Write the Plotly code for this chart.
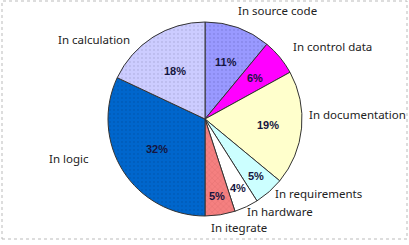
import math
import plotly.graph_objects as go

labels = ["In source code", "In control data", "In documentation", "In requirements",
          "In hardware", "In itegrate", "In logic", "In calculation"]
values = [11, 6, 19, 5, 4, 5, 32, 18]

# styles
colors = ["#9999FF", "#FF00FF", "#FFFFCC", "#CCFFFF", "#FFFFFF", "#F58080", "#0066CC", "#CCCCFF"]
pattern_shapes = [".", "", "", "", "", "x", ".", "."]
pattern_fg = ["#7777D6", "#FF00FF", "#FFFFCC", "#CCFFFF", "#FFFFFF", "#C85A5A", "#0052A8", "#A6A6D6"]
pct_radius = [0.63, 0.67, 0.65, 0.79, 0.79, 0.80, 0.58, 0.58]
# outside label centres in pixels (from top-left of the 409x245 page)
label_px = [(277, 11), (332, 47), (357, 114), (318, 193), (280, 211), (239, 227), (69, 158), (94, 39)]

W, H = 409, 245
cx, cy, r = 205, 119, 97
dom_x = [(cx - r) / W, (cx + r) / W]
dom_y = [(H - cy - r) / H, (H - cy + r) / H]

fig = go.Figure()
fig.add_trace(go.Pie(
    labels=labels, values=values, sort=False, direction="clockwise", rotation=0,
    domain=dict(x=dom_x, y=dom_y),
    marker=dict(colors=colors, line=dict(color="#333333", width=1),
                pattern=dict(shape=pattern_shapes, fgcolor=pattern_fg, bgcolor=colors,
                             size=4, solidity=0.1)),
    textinfo="none", showlegend=False, hoverinfo="label+percent",
))

total = sum(values)
annotations = []
cum = 0
for i, (lab, v) in enumerate(zip(labels, values)):
    mid = (cum + v / 2) / total * 2 * math.pi
    cum += v
    d = pct_radius[i] * r
    px = cx + d * math.sin(mid)
    py = cy - d * math.cos(mid)
    annotations.append(dict(
        x=px / W, y=1 - py / H, xref="paper", yref="paper", showarrow=False,
        text=f"{round(v / total * 100)}%", xanchor="center", yanchor="middle",
        font=dict(family="Liberation Sans", size=11, color="#151540", weight="bold"),
    ))
    lx, ly = label_px[i]
    annotations.append(dict(
        x=lx / W, y=1 - ly / H, xref="paper", yref="paper", showarrow=False,
        text=lab, xanchor="center", yanchor="middle",
        font=dict(family="Noto Sans", size=11.5, color="#222222"),
    ))

fig.update_layout(
    width=W, height=H, margin=dict(l=0, r=0, t=0, b=0),
    paper_bgcolor="white", plot_bgcolor="white",
    annotations=annotations,
    shapes=[dict(type="rect", xref="paper", yref="paper", x0=2/W, x1=407/W, y0=1 - 239/H, y1=1 - 1/H,
                 line=dict(color="#BBBBBB", width=1, dash="dot"))],
)
fig.write_html("out.html")
